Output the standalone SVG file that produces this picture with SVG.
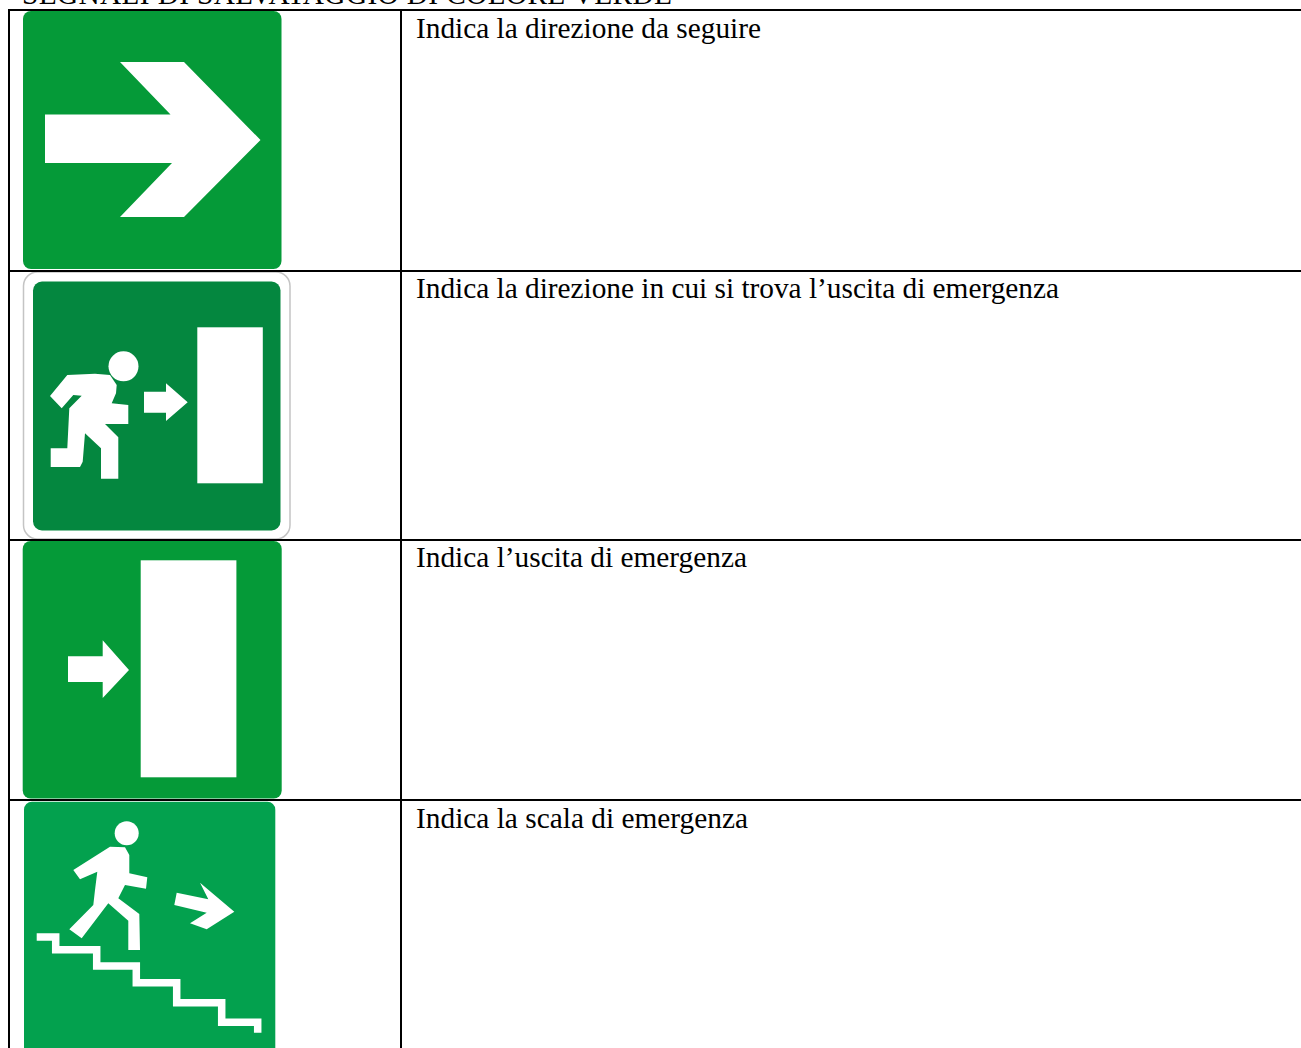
<svg xmlns="http://www.w3.org/2000/svg" width="1301" height="1048" viewBox="0 0 1301 1048">
<defs><filter id="soft" x="-5%" y="-5%" width="110%" height="110%"><feGaussianBlur stdDeviation="0.7"/></filter></defs>
<style>
.t{font-family:"Liberation Serif","Times New Roman",serif;font-size:29.330px;fill:#000}
.w{fill:#fff}
.l{stroke:#000;stroke-width:2;fill:none}
</style>
<rect width="1301" height="1048" fill="#fff"/>
<text class="t" x="22" y="4" textLength="650" lengthAdjust="spacing">SEGNALI DI SALVATAGGIO DI COLORE VERDE</text>
<g id="sign1">
<rect x="23" y="11" width="258.500" height="258" rx="8" fill="#059a38"/>
<polygon class="w" points="45,114.500 170.500,114.500 120,62 184,62 260.500,140 184,217 120,217 172,163 45,163"/>
</g>
<g id="sign2">
<rect x="23.500" y="272" width="266.500" height="267" rx="14" fill="#fff" stroke="#c4c4c4" stroke-width="1.500"/>
<rect x="33" y="281.500" width="247.500" height="249" rx="9" fill="#04873f"/>
<rect class="w" x="197.300" y="327.300" width="65.500" height="156"/>
<circle class="w" cx="123.500" cy="366.300" r="15"/>
<polygon class="w" points="144,391.700 166,391.700 166,383.300 187.700,402.300 166,421 166,412.700 144,412.700"/>
<polygon class="w" points="50,396 67.300,375 95,373.700 110,375 116.700,385 116,393.300 111.700,403.300 128.300,405 128.300,424 105,424 118.300,437.300 118.300,478.700 101,478.700 101,448.300 85,433.300 82.700,461.700 80,467 50.700,467 50.700,448.300 67.300,448.300 69.300,408.300 81.700,395.700 73.300,395 61.700,408.300"/>
</g>
<g id="sign3">
<rect x="22.700" y="541" width="259" height="257.500" rx="8" fill="#059a38"/>
<rect class="w" x="140.700" y="560.300" width="95.700" height="217"/>
<polygon class="w" points="68,656.300 102.700,656.300 102.700,640.300 129,670 102.700,698 102.700,682 68,682"/>
</g>
<g id="sign4">
<rect x="24" y="801.700" width="251.300" height="256" rx="8" fill="#03a14e"/>
<g filter="url(#soft)">
<circle class="w" cx="126.700" cy="833.300" r="12"/>
<polygon class="w" points="73.300,870 110,846.700 125,847.300 129.300,855 129.300,873.300 147.300,877.300 146,888.700 125,885 118.300,898.300 139.300,914 140,950 128.300,950 128.300,920.700 108.300,903.300 81.700,938.300 69.300,929.300 93.300,905 95,890 97.300,871.700 80,879.300"/>
<polygon class="w" points="200,882.700 234.300,911.700 206.700,929.300 190,923.300 206.700,912.700 174.300,905 176.700,892.700 208.300,899.300"/>
<polyline points="36.700,937 55.700,937 55.700,949.700 96.700,949.700 96.700,966 136.300,966 136.300,982.700 176.700,982.700 176.700,1002.700 221.700,1002.700 221.700,1022.300 257.700,1022.300 257.700,1032.700" fill="none" stroke="#fff" stroke-width="7.500"/>
</g>
</g>
<g id="table">
<path class="l" d="M9 10H1301M9 271H1301M9 540H1301M9 800H1301M9 9V1048M401 9V1048"/>
</g>
<text class="t" x="416" y="38" textLength="345" lengthAdjust="spacing">Indica la direzione da seguire</text>
<text class="t" x="416" y="298" textLength="643" lengthAdjust="spacing">Indica la direzione in cui si trova l’uscita di emergenza</text>
<text class="t" x="416" y="567" textLength="331" lengthAdjust="spacing">Indica l’uscita di emergenza</text>
<text class="t" x="416" y="828" textLength="332" lengthAdjust="spacing">Indica la scala di emergenza</text>
</svg>
